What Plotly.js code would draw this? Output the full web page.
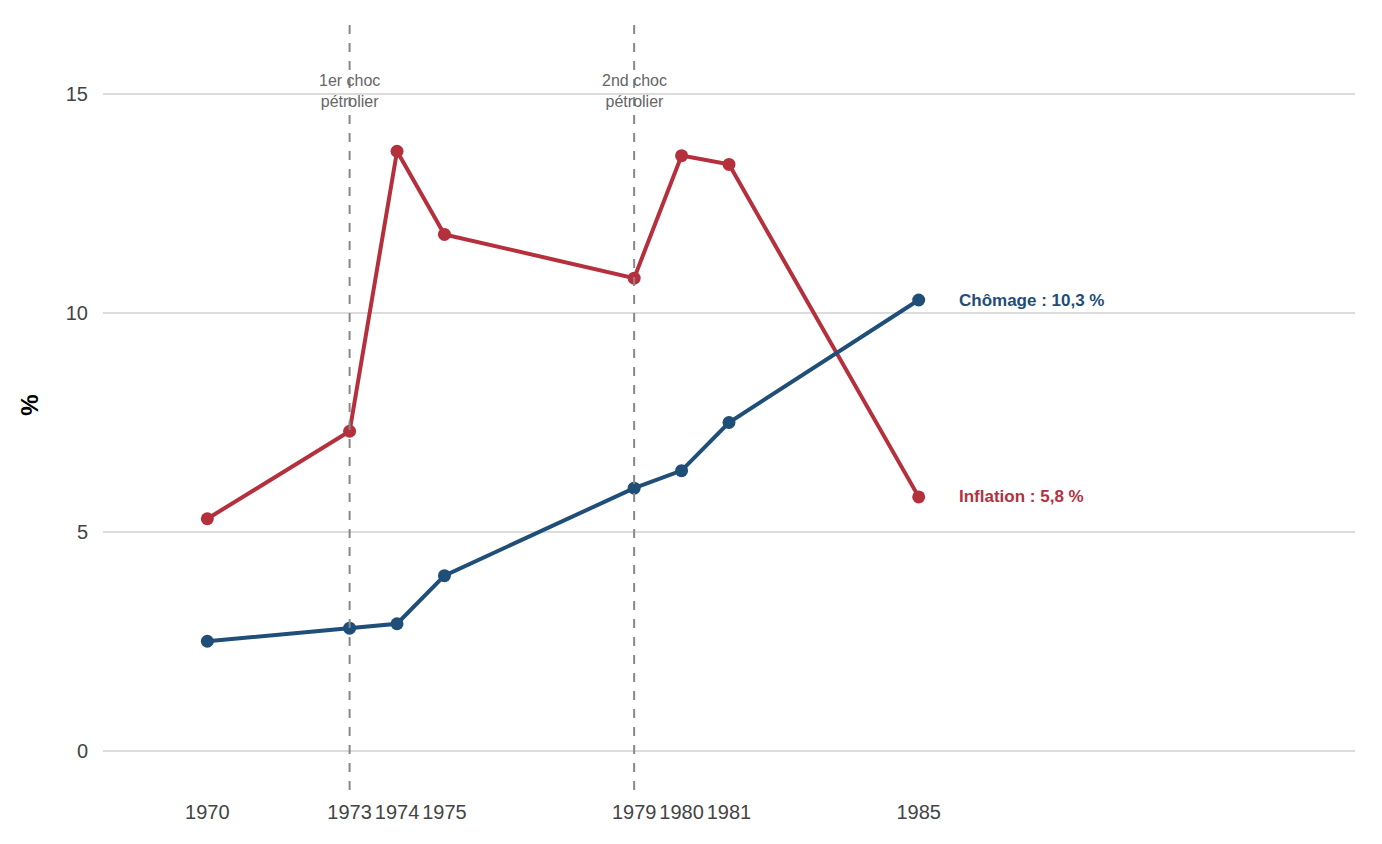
<!DOCTYPE html>
<html>
<head>
<meta charset="utf-8">
<script src="https://cdn.plot.ly/plotly-3.0.1.min.js"></script>
<style>body{margin:0}#chart{width:1382px;height:844px}</style>
</head>
<body>
<div id="chart"></div>
<script>
var years = [1970, 1973, 1974, 1975, 1979, 1980, 1981, 1985];
var inflation = [5.3, 7.3, 13.7, 11.8, 10.8, 13.6, 13.4, 5.8];
var chomage = [2.5, 2.8, 2.9, 4.0, 6.0, 6.4, 7.5, 10.3];
var chocs = [1973, 1979];
var chocLabels = ["1er choc<br>pétrolier", "2nd choc<br>pétrolier"];

var red = "#b5303d", blue = "#1f4e79";

function serie(y, c) {
  return {x: years, y: y, mode: "lines+markers", type: "scatter",
    line: {color: c, width: 4}, marker: {color: c, size: 13}, hoverinfo: "x+y"};
}

var shapes = chocs.map(function (yr) {
  return {type: "line", xref: "x", yref: "paper", x0: yr, x1: yr, y0: 0, y1: 1,
    line: {color: "#888", width: 2, dash: "dash"}};
});

var annotations = chocs.map(function (yr, i) {
  return {x: yr, y: 14.6, xref: "x", yref: "y", text: chocLabels[i], showarrow: false,
    yanchor: "bottom", font: {size: 16, color: "#666"}};
});
annotations.push({x: 1985.8, y: chomage[7], text: "<b>Chômage : 10,3 %</b>", showarrow: false,
  xanchor: "left", font: {size: 17, color: blue}});
annotations.push({x: 1985.8, y: inflation[7], text: "<b>Inflation : 5,8 %</b>", showarrow: false,
  xanchor: "left", font: {size: 17, color: red}});

Plotly.newPlot("chart", [serie(inflation, red), serie(chomage, blue)], {
  width: 1382, height: 844,
  margin: {l: 103, r: 27, t: 20, b: 54},
  showlegend: false,
  paper_bgcolor: "white", plot_bgcolor: "white",
  font: {family: "Liberation Sans, Arial, sans-serif", size: 20, color: "#444"},
  xaxis: {range: [1967.8, 1994.2], tickvals: years, ticktext: years.map(String),
    showgrid: false, zeroline: false, ticks: "", ticklabelstandoff: 8},
  yaxis: {range: [-0.9, 16.7], tickvals: [0, 5, 10, 15], showgrid: true,
    gridcolor: "#dcdcdc", gridwidth: 2, zeroline: false, ticks: "", ticklabelstandoff: 14,
    title: {text: "<b>%</b>", font: {size: 24, color: "#000"}, standoff: 20}},
  shapes: shapes,
  annotations: annotations
}, {displayModeBar: false});
</script>
</body>
</html>
